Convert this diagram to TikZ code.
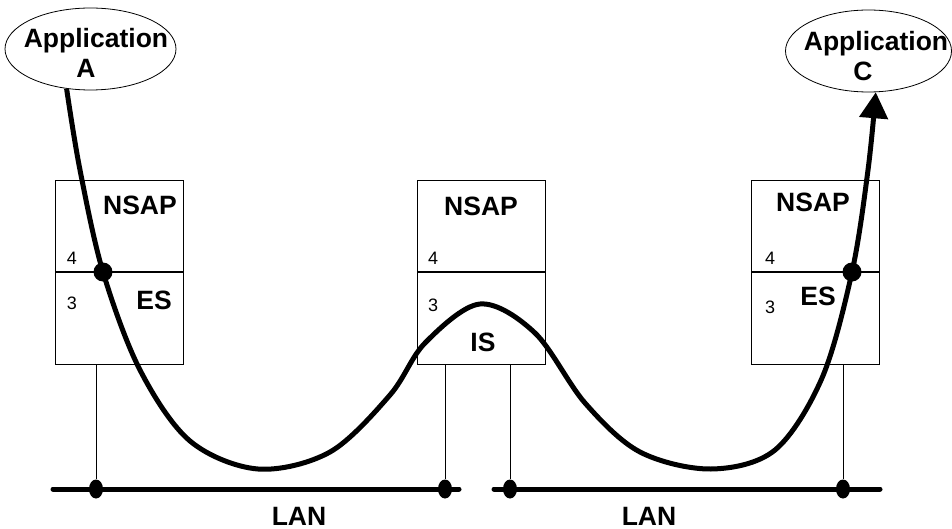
\documentclass[tikz,border=0pt]{standalone}
\usepackage{fontspec}
\setmainfont{Liberation Sans}
\usetikzlibrary{shapes.geometric,arrows.meta}
\tikzset{
  appell/.style={draw, ellipse, line width=0.8pt, inner sep=0pt},
  applabel/.style={font=\bfseries\fontsize{26.5}{30}\selectfont, inner sep=0pt, anchor=base},
  sysbox/.style={draw, line width=0.8pt, minimum width=128pt, minimum height=184pt, anchor=north west, inner sep=0pt},
  divider/.style={line width=1.6pt},
  boxlabel/.style={font=\bfseries\fontsize{26.5}{30}\selectfont, inner sep=0pt},
  layernum/.style={font=\fontsize{18}{20}\selectfont, inner sep=0pt},
  drop/.style={line width=0.8pt},
  lanline/.style={line width=5pt, line cap=round},
  landot/.style={fill, ellipse, minimum width=14pt, minimum height=19pt, inner sep=0pt},
  curvedot/.style={fill, circle, minimum size=19pt, inner sep=0pt},
  flow/.style={line width=5pt, line join=round}
}
\begin{document}
\begin{tikzpicture}[x=1pt,y=-1pt]
\useasboundingbox (0,0) rectangle (952,529);

% application ellipses
\node[appell, minimum width=171pt, minimum height=82pt] (appA) at (90.5,49) {};
\node[applabel] (appAt1) at (96,48) {Application};
\node[applabel] (appAt2) at (86,78) {A};
\node[appell, minimum width=166pt, minimum height=82pt] (appC) at (868.5,51) {};
\node[applabel] (appCt1) at (876,51) {Application};
\node[applabel] (appCt2) at (863,81) {C};

% boxes
\node[sysbox] (esA) at (55,180) {};
\node[sysbox] (isB) at (417,180) {};
\node[sysbox] (esC) at (751,180) {};
\foreach \b in {esA,isB,esC}{
  \draw[divider] ([yshift=-92pt]\b.north west) -- ([yshift=-92pt]\b.north east);
}

% box texts
\node[boxlabel] (nsA) at (140,205) {NSAP};
\node[boxlabel] (esAl) at (154,300) {ES};
\node[layernum] (n4A) at (72,258) {4};
\node[layernum] (n3A) at (72,303) {3};

\node[boxlabel] (nsB) at (481,206) {NSAP};
\node[boxlabel] (isBl) at (483,342) {IS};
\node[layernum] (n4B) at (433,258) {4};
\node[layernum] (n3B) at (433,305) {3};

\node[boxlabel] (nsC) at (813,202) {NSAP};
\node[boxlabel] (esCl) at (818,296) {ES};
\node[layernum] (n4C) at (770,258) {4};
\node[layernum] (n3C) at (770,307) {3};

% LANs
\coordinate (l1a) at (53,489);
\coordinate (l1b) at (459,489);
\coordinate (l2a) at (494,489);
\coordinate (l2b) at (880,489);
\draw[lanline] (l1a) -- (l1b);
\draw[lanline] (l2a) -- (l2b);
\node[landot] (d1) at (96,489) {};
\node[landot] (d2) at (445,489) {};
\node[landot] (d3) at (510,489) {};
\node[landot] (d4) at (843,489) {};
\draw[drop] (esA.south -| d1) -- (d1);
\draw[drop] (isB.south -| d2) -- (d2);
\draw[drop] (isB.south -| d3) -- (d3);
\draw[drop] (esC.south -| d4) -- (d4);
\node[boxlabel] (lanL) at (299,516) {LAN};
\node[boxlabel] (lanR) at (649,516) {LAN};

% data path
\coordinate (pA) at (103,272);
\coordinate (pC) at (852,272);
\draw[flow, -{Triangle[length=26pt,width=28pt]}] plot[smooth, tension=0.55] coordinates {
 (appA.239) (80,170) (pA) (140,370) (190,441) (258,469) (330,452) (390,395)
 (425,343) (480,304) (535,333) (585,403) (640,452) (711,469) (775,450)
 (822,378) (pC) (868,170) (appC.280)};
\node[curvedot] (dotA) at (pA) {};
\node[curvedot] (dotC) at (pC) {};
\end{tikzpicture}
\end{document}
